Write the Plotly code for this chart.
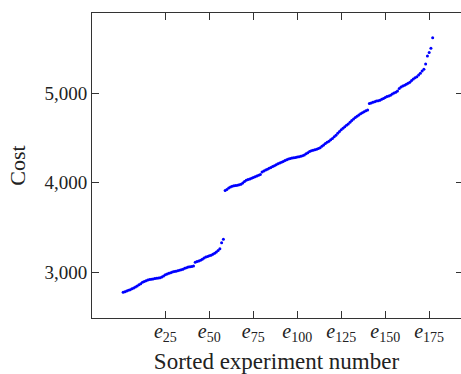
import plotly.graph_objects as go

# Sorted experiment number (1..177) and cost values
experiment = list(range(1, 178))
cost = [
    2776, 2782, 2790, 2800, 2806, 2815, 2826, 2835, 2848, 2860,
    2872, 2888, 2898, 2906, 2915, 2919, 2923, 2926, 2930, 2934,
    2936, 2940, 2948, 2960, 2972, 2982, 2990, 2996, 3003, 3008,
    3012, 3017, 3022, 3027, 3035, 3044, 3052, 3058, 3062, 3065,
    3070, 3112, 3120, 3126, 3134, 3145, 3160, 3170, 3177, 3184,
    3190, 3200, 3212, 3226, 3242, 3262, 3330, 3368,
    3912, 3925, 3940, 3952, 3960, 3965, 3968, 3972, 3977, 3983,
    3995, 4012, 4028, 4035, 4042, 4050, 4058, 4066, 4074, 4082,
    4090, 4120, 4130, 4140, 4150, 4160, 4170, 4180, 4190, 4200,
    4210, 4220, 4228, 4236, 4246, 4256, 4264, 4270, 4274, 4278,
    4282, 4286, 4290, 4294, 4300, 4310, 4322, 4335, 4348, 4356,
    4362, 4368, 4374, 4380, 4390, 4405, 4420, 4436, 4450, 4462,
    4478, 4494, 4512, 4530, 4550, 4570, 4590, 4608, 4625, 4640,
    4655, 4675, 4694, 4710, 4728, 4742, 4755, 4768, 4780, 4792,
    4802, 4810, 4882, 4890, 4898, 4904, 4910, 4914, 4920, 4930,
    4940, 4950, 4960, 4968, 4976, 4988, 5000, 5010, 5024, 5050,
    5066, 5078, 5088, 5098, 5110, 5120, 5140, 5158, 5170, 5182,
    5200, 5220, 5245, 5265, 5325, 5412, 5452, 5500, 5617,
]

x_tickvals = [25, 50, 75, 100, 125, 150, 175]
x_ticktext = [f"<i>e</i><sub>{v}</sub>" for v in x_tickvals]
y_tickvals = [3000, 4000, 5000]
y_ticktext = ["3,000", "4,000", "5,000"]

x_range = [-16.7, 193.1]
y_range = [2490, 5893]

FONT = "Liberation Serif"
AX = "#333333"

fig = go.Figure()
fig.add_trace(go.Scatter(
    x=experiment, y=cost, mode="markers",
    marker=dict(color="#0000ff", size=3, line=dict(width=0)),
    showlegend=False, hoverinfo="skip",
))
fig.add_trace(go.Scatter(
    x=[experiment[0]], y=[cost[0]], mode="markers", yaxis="y2",
    marker=dict(opacity=0), showlegend=False, hoverinfo="skip",
))

fig.update_layout(
    width=461, height=374,
    margin=dict(l=92, r=0, t=13, b=52),
    paper_bgcolor="white", plot_bgcolor="white",
    font=dict(family=FONT, color="#222222"),
    xaxis=dict(
        range=x_range, tickvals=x_tickvals, ticktext=x_ticktext,
        ticks="inside", ticklen=7, tickcolor=AX, tickwidth=1,
        showline=True, linecolor=AX, linewidth=1, mirror="ticks",
        showgrid=False, zeroline=False,
        tickfont=dict(family=FONT, size=20, color="#222222"),
        ticklabelstandoff=-5,
        title=dict(text="Sorted experiment number", standoff=13,
                   font=dict(family=FONT, size=23, color="#222222")),
    ),
    yaxis=dict(
        range=y_range, tickvals=y_tickvals, ticktext=y_ticktext,
        ticks="inside", ticklen=7, tickcolor=AX, tickwidth=1,
        showline=True, linecolor=AX, linewidth=1, mirror=False,
        showgrid=False, zeroline=False,
        tickfont=dict(family=FONT, size=19, color="#222222"),
        title=dict(text="Cost", standoff=12,
                   font=dict(family=FONT, size=22, color="#222222")),
    ),
    yaxis2=dict(
        range=y_range, tickvals=y_tickvals, overlaying="y", side="right",
        ticks="inside", ticklen=5, tickcolor=AX, tickwidth=1,
        showline=False, showticklabels=False, showgrid=False, zeroline=False,
    ),
)

fig.write_html("out.html")
